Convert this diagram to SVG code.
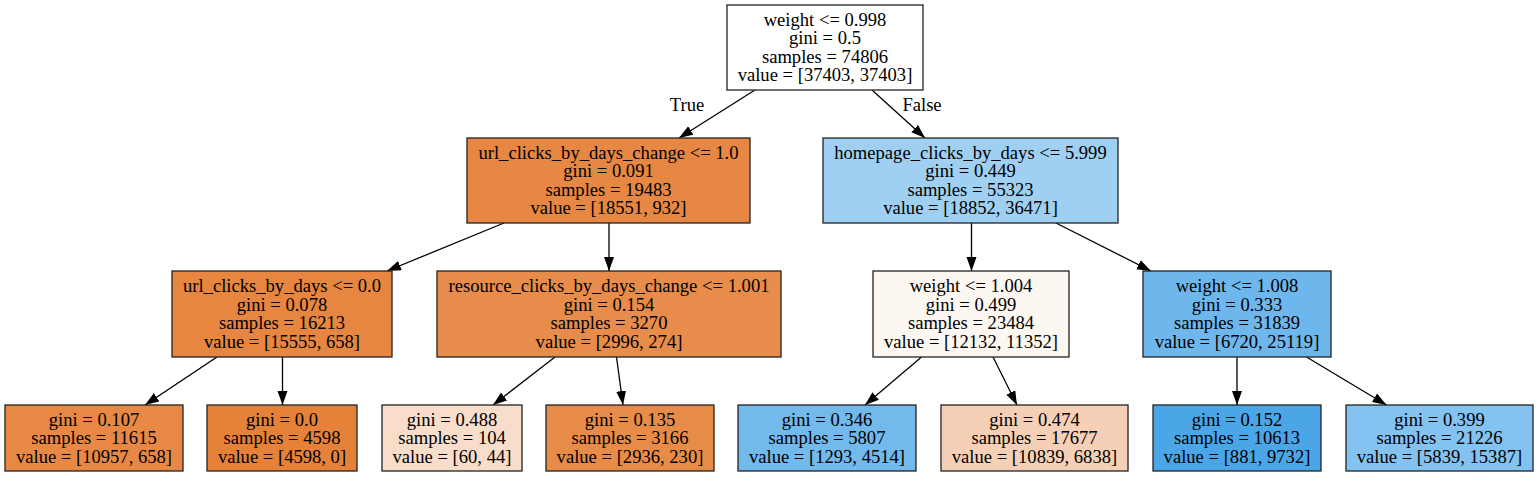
<svg xmlns="http://www.w3.org/2000/svg" width="1539" height="477" viewBox="0 0 1539 477">
<style>
.box{stroke:#222;stroke-width:1.3}
text{font-family:"Liberation Serif","Times New Roman",serif;font-size:18.6px;fill:#000;text-anchor:middle}
.edge line{stroke:#000;stroke-width:1.3;marker-end:url(#ah)}
</style>
<defs>
<marker id="ah" markerUnits="userSpaceOnUse" markerWidth="15" markerHeight="11" refX="14" refY="5" orient="auto">
<path d="M0,0 L14,5 L0,10 z" fill="#000"/>
</marker>
</defs>
<rect width="1539" height="477" fill="#fff"/>
<g id="edges" class="edge">
<line x1="755" y1="90" x2="679" y2="138"/>
<line x1="872" y1="90" x2="925" y2="138"/>
<line x1="504" y1="223" x2="387" y2="271"/>
<line x1="609" y1="223" x2="609" y2="271"/>
<line x1="971.5" y1="223" x2="971.5" y2="271"/>
<line x1="1056" y1="223" x2="1151" y2="271"/>
<line x1="217" y1="357" x2="145" y2="405"/>
<line x1="282.5" y1="357" x2="282.5" y2="405"/>
<line x1="555" y1="357" x2="493" y2="405"/>
<line x1="616.5" y1="357" x2="623" y2="405"/>
<line x1="921.5" y1="357" x2="865" y2="405"/>
<line x1="993" y1="357" x2="1017" y2="405"/>
<line x1="1237" y1="357" x2="1237" y2="405"/>
<line x1="1306.5" y1="357" x2="1386.5" y2="405"/>
<text x="687" y="111">True</text>
<text x="922" y="111">False</text>
</g>
<g id="n0"><rect class="box" x="727" y="5" width="196" height="85" fill="#ffffff"/>
<text x="825" y="25.8">weight &lt;= 0.998</text><text x="825" y="44.3">gini = 0.5</text><text x="825" y="62.8">samples = 74806</text><text x="825" y="81.3">value = [37403, 37403]</text></g>
<g id="n1"><rect class="box" x="467" y="138" width="283" height="85" fill="#e68743"/>
<text x="608.5" y="158.8">url_clicks_by_days_change &lt;= 1.0</text><text x="608.5" y="177.3">gini = 0.091</text><text x="608.5" y="195.8">samples = 19483</text><text x="608.5" y="214.3">value = [18551, 932]</text></g>
<g id="n8"><rect class="box" x="823" y="138" width="295" height="85" fill="#9fd0f2"/>
<text x="970.5" y="158.8">homepage_clicks_by_days &lt;= 5.999</text><text x="970.5" y="177.3">gini = 0.449</text><text x="970.5" y="195.8">samples = 55323</text><text x="970.5" y="214.3">value = [18852, 36471]</text></g>
<g id="n2"><rect class="box" x="172" y="271" width="220" height="86" fill="#e68641"/>
<text x="282" y="292.3">url_clicks_by_days &lt;= 0.0</text><text x="282" y="310.8">gini = 0.078</text><text x="282" y="329.3">samples = 16213</text><text x="282" y="347.8">value = [15555, 658]</text></g>
<g id="n5"><rect class="box" x="437" y="271" width="344" height="86" fill="#e78c4b"/>
<text x="609" y="292.3">resource_clicks_by_days_change &lt;= 1.001</text><text x="609" y="310.8">gini = 0.154</text><text x="609" y="329.3">samples = 3270</text><text x="609" y="347.8">value = [2996, 274]</text></g>
<g id="n9"><rect class="box" x="873" y="271" width="196" height="86" fill="#fdf7f2"/>
<text x="971" y="292.3">weight &lt;= 1.004</text><text x="971" y="310.8">gini = 0.499</text><text x="971" y="329.3">samples = 23484</text><text x="971" y="347.8">value = [12132, 11352]</text></g>
<g id="n12"><rect class="box" x="1143" y="271" width="188" height="86" fill="#6eb7ec"/>
<text x="1237" y="292.3">weight &lt;= 1.008</text><text x="1237" y="310.8">gini = 0.333</text><text x="1237" y="329.3">samples = 31839</text><text x="1237" y="347.8">value = [6720, 25119]</text></g>
<g id="n3"><rect class="box" x="5" y="405" width="178" height="66" fill="#e78945"/>
<text x="94" y="425.5">gini = 0.107</text><text x="94" y="444">samples = 11615</text><text x="94" y="462.5">value = [10957, 658]</text></g>
<g id="n4"><rect class="box" x="207" y="405" width="150" height="66" fill="#e58139"/>
<text x="282" y="425.5">gini = 0.0</text><text x="282" y="444">samples = 4598</text><text x="282" y="462.5">value = [4598, 0]</text></g>
<g id="n6"><rect class="box" x="382" y="405" width="140" height="66" fill="#f8ddca"/>
<text x="452" y="425.5">gini = 0.488</text><text x="452" y="444">samples = 104</text><text x="452" y="462.5">value = [60, 44]</text></g>
<g id="n7"><rect class="box" x="546" y="405" width="168" height="66" fill="#e78b48"/>
<text x="630" y="425.5">gini = 0.135</text><text x="630" y="444">samples = 3166</text><text x="630" y="462.5">value = [2936, 230]</text></g>
<g id="n10"><rect class="box" x="738" y="405" width="178" height="66" fill="#72b9ec"/>
<text x="827" y="425.5">gini = 0.346</text><text x="827" y="444">samples = 5807</text><text x="827" y="462.5">value = [1293, 4514]</text></g>
<g id="n11"><rect class="box" x="941" y="405" width="187" height="66" fill="#f5d0b6"/>
<text x="1034.5" y="425.5">gini = 0.474</text><text x="1034.5" y="444">samples = 17677</text><text x="1034.5" y="462.5">value = [10839, 6838]</text></g>
<g id="n13"><rect class="box" x="1153" y="405" width="168" height="66" fill="#4ba6e7"/>
<text x="1237" y="425.5">gini = 0.152</text><text x="1237" y="444">samples = 10613</text><text x="1237" y="462.5">value = [881, 9732]</text></g>
<g id="n14"><rect class="box" x="1346" y="405" width="187" height="66" fill="#84c2ef"/>
<text x="1439.5" y="425.5">gini = 0.399</text><text x="1439.5" y="444">samples = 21226</text><text x="1439.5" y="462.5">value = [5839, 15387]</text></g>
</svg>
